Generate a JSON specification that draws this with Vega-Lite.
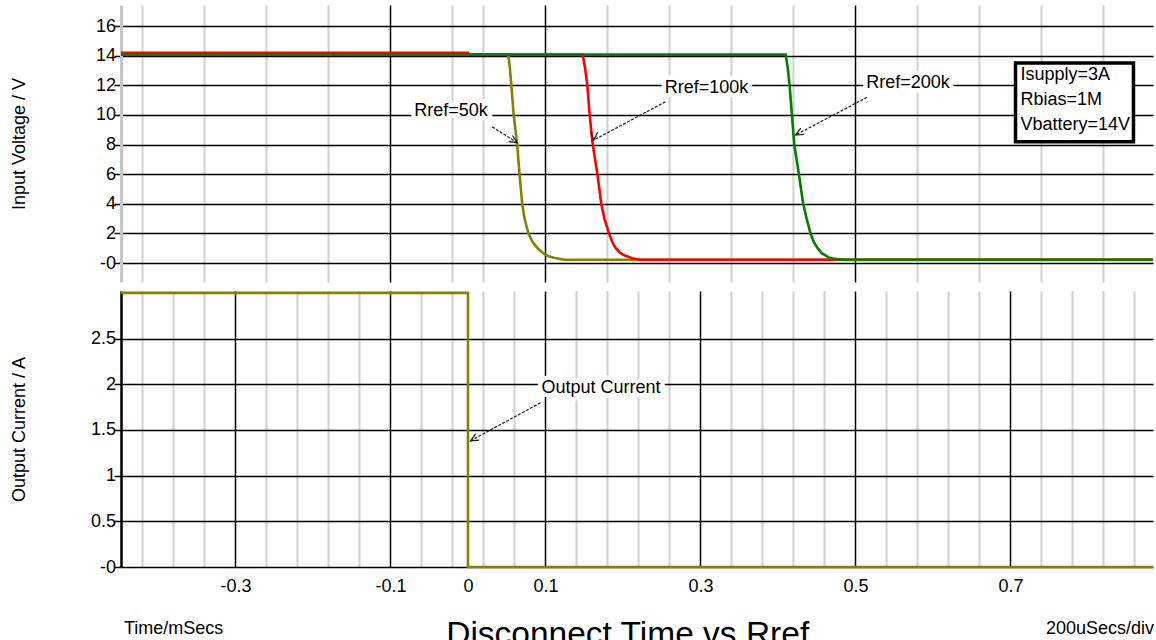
{
  "$schema": "https://vega.github.io/schema/vega-lite/v6.json",
  "padding": {"left": 10, "top": 5, "right": 0, "bottom": 0},
  "spacing": 9,
  "bounds": "flush",
  "config": {
    "font": "Liberation Sans",
    "view": {"stroke": null},
    "axis": {"labelFont": "Liberation Sans", "titleFont": "Liberation Sans", "labelFontSize": 18, "titleFontSize": 18, "labelColor": "#000000", "titleColor": "#000000", "titleFontWeight": "normal", "tickColor": "#000000", "domainColor": "#000000", "gridColor": "#000000"}
  },
  "datasets": {
    "curves": [
      {"series": "Rref=50k", "t": -0.4477, "v": 14.07},
      {"series": "Rref=50k", "t": 0.052, "v": 14.07},
      {"series": "Rref=50k", "t": 0.054, "v": 13.2},
      {"series": "Rref=50k", "t": 0.056, "v": 12},
      {"series": "Rref=50k", "t": 0.059, "v": 10},
      {"series": "Rref=50k", "t": 0.0635, "v": 8},
      {"series": "Rref=50k", "t": 0.0665, "v": 6},
      {"series": "Rref=50k", "t": 0.07, "v": 4},
      {"series": "Rref=50k", "t": 0.073, "v": 3},
      {"series": "Rref=50k", "t": 0.078, "v": 2},
      {"series": "Rref=50k", "t": 0.083, "v": 1.45},
      {"series": "Rref=50k", "t": 0.089, "v": 1.05},
      {"series": "Rref=50k", "t": 0.0975, "v": 0.65},
      {"series": "Rref=50k", "t": 0.104, "v": 0.45},
      {"series": "Rref=50k", "t": 0.111, "v": 0.35},
      {"series": "Rref=50k", "t": 0.124, "v": 0.22},
      {"series": "Rref=50k", "t": 0.8839, "v": 0.22},
      {"series": "Rref=100k", "t": -0.4477, "v": 14.2},
      {"series": "Rref=100k", "t": 0, "v": 14.2},
      {"series": "Rref=100k", "t": 0, "v": 14.07},
      {"series": "Rref=100k", "t": 0.148, "v": 14.07},
      {"series": "Rref=100k", "t": 0.151, "v": 13.2},
      {"series": "Rref=100k", "t": 0.154, "v": 12},
      {"series": "Rref=100k", "t": 0.157, "v": 10},
      {"series": "Rref=100k", "t": 0.161, "v": 8},
      {"series": "Rref=100k", "t": 0.167, "v": 6},
      {"series": "Rref=100k", "t": 0.172, "v": 4},
      {"series": "Rref=100k", "t": 0.176, "v": 3},
      {"series": "Rref=100k", "t": 0.182, "v": 2},
      {"series": "Rref=100k", "t": 0.186, "v": 1.45},
      {"series": "Rref=100k", "t": 0.19, "v": 1.05},
      {"series": "Rref=100k", "t": 0.196, "v": 0.7},
      {"series": "Rref=100k", "t": 0.201, "v": 0.54},
      {"series": "Rref=100k", "t": 0.212, "v": 0.32},
      {"series": "Rref=100k", "t": 0.222, "v": 0.22},
      {"series": "Rref=100k", "t": 0.8839, "v": 0.22},
      {"series": "Rref=200k", "t": -0.4477, "v": 14.07},
      {"series": "Rref=200k", "t": 0.41, "v": 14.07},
      {"series": "Rref=200k", "t": 0.4125, "v": 13.2},
      {"series": "Rref=200k", "t": 0.415, "v": 12},
      {"series": "Rref=200k", "t": 0.418, "v": 10},
      {"series": "Rref=200k", "t": 0.421, "v": 8},
      {"series": "Rref=200k", "t": 0.427, "v": 6},
      {"series": "Rref=200k", "t": 0.4325, "v": 4},
      {"series": "Rref=200k", "t": 0.437, "v": 3},
      {"series": "Rref=200k", "t": 0.442, "v": 2},
      {"series": "Rref=200k", "t": 0.446, "v": 1.45},
      {"series": "Rref=200k", "t": 0.4506, "v": 1.05},
      {"series": "Rref=200k", "t": 0.457, "v": 0.65},
      {"series": "Rref=200k", "t": 0.4655, "v": 0.38},
      {"series": "Rref=200k", "t": 0.473, "v": 0.28},
      {"series": "Rref=200k", "t": 0.483, "v": 0.22},
      {"series": "Rref=200k", "t": 0.8839, "v": 0.22}
    ],
    "current": [
      {"t": -0.4477, "i": 3},
      {"t": 0, "i": 3},
      {"t": 0, "i": 0},
      {"t": 0.8839, "i": 0}
    ],
    "vnotes": [
      {"label": "Rref=50k", "tx": -0.0219, "ty": 10.26, "ax": 0.0312, "ay": 9.2, "hx": 0.0635, "hy": 8.12},
      {"label": "Rref=100k", "tx": 0.3077, "ty": 11.82, "ax": 0.2548, "ay": 10.89, "hx": 0.1623, "hy": 8.3},
      {"label": "Rref=200k", "tx": 0.5677, "ty": 12.15, "ax": 0.515, "ay": 11.19, "hx": 0.4226, "hy": 8.64}
    ],
    "inotes": [
      {"label": "Output Current", "tx": 0.1716, "ty": 1.96, "ax": 0.0935, "ay": 1.797, "hx": 0.0032, "hy": 1.38}
    ]
  },
  "vconcat": [
    {
      "width": 1032,
      "height": 277,
      "layer": [
        {
          "data": {"name": "curves"},
          "mark": {"type": "line", "strokeWidth": 2.6},
          "encoding": {
            "x": {"field": "t", "type": "quantitative", "scale": {"domain": [-0.4477, 0.8839], "nice": false, "zero": false},
              "axis": {"orient": "bottom", "values": [-0.42,-0.38,-0.34,-0.3,-0.26,-0.22,-0.18,-0.14,-0.1,-0.06,-0.02,0,0.02,0.06,0.1,0.14,0.18,0.22,0.26,0.3,0.34,0.38,0.42,0.46,0.5,0.54,0.58,0.62,0.66,0.7,0.74,0.78,0.82,0.86],
                "grid": true,
                "gridColor": {"condition": {"test": "indexof([-0.3,-0.1,0.1,0.3,0.5,0.7], datum.value) >= 0", "value": "#000000"}, "value": "#d0d0d0"},
                "gridWidth": {"condition": {"test": "indexof([-0.3,-0.1,0.1,0.3,0.5,0.7], datum.value) >= 0", "value": 1.5}, "value": 2},
                "gridOpacity": {"condition": {"test": "datum.value == 0", "value": 0}, "value": 1},
                "labels": false, "ticks": false, "domain": false, "title": null}},
            "y": {"field": "v", "type": "quantitative", "scale": {"domain": [-1.28, 17.42], "nice": false, "zero": false},
              "axis": {"values": [0,2,4,6,8,10,12,14,16], "grid": true, "gridColor": "#000000", "gridWidth": 1.5,
                "ticks": true, "tickSize": 7, "tickWidth": 1.5, "labelPadding": -1.5, "labelOverlap": false, "labelFlush": false,
                "labelExpr": "datum.value == 0 ? '-0' : toString(datum.value)",
                "domain": true, "domainColor": "#c8c8c8", "domainWidth": 3,
                "title": "Input Voltage / V", "titleX": -92.2}},
            "color": {"field": "series", "type": "nominal", "scale": {"domain": ["Rref=50k", "Rref=100k", "Rref=200k"], "range": ["#838300", "#ff0000", "#008000"]}, "legend": null},
            "order": {"value": null}
          }
        },
        {
          "data": {"name": "vnotes"},
          "mark": {"type": "rule", "color": "#222222", "strokeWidth": 1.2, "strokeDash": [3, 1.5]},
          "encoding": {
            "x": {"field": "ax", "type": "quantitative"},
            "y": {"field": "ay", "type": "quantitative",
              "axis": {"values": [0,2,4,6,8,10,12,14,16], "grid": true, "gridColor": "#000000", "gridWidth": 1.5,
                "ticks": true, "tickSize": 7, "tickWidth": 1.5, "labelPadding": -1.5, "labelOverlap": false, "labelFlush": false,
                "labelExpr": "datum.value == 0 ? '-0' : toString(datum.value)",
                "domain": true, "domainColor": "#c8c8c8", "domainWidth": 3,
                "title": "Input Voltage / V", "titleX": -92.2}},
            "x2": {"field": "hx"},
            "y2": {"field": "hy"}
          }
        },
        {
          "data": {"name": "vnotes"},
          "mark": {"type": "point", "shape": "M-1,-0.45L0,0L-1,0.45", "filled": false, "color": "#222222", "strokeWidth": 1.3, "size": 250, "opacity": 1},
          "encoding": {
            "x": {"field": "hx", "type": "quantitative"},
            "y": {"field": "hy", "type": "quantitative",
              "axis": {"values": [0,2,4,6,8,10,12,14,16], "grid": true, "gridColor": "#000000", "gridWidth": 1.5,
                "ticks": true, "tickSize": 7, "tickWidth": 1.5, "labelPadding": -1.5, "labelOverlap": false, "labelFlush": false,
                "labelExpr": "datum.value == 0 ? '-0' : toString(datum.value)",
                "domain": true, "domainColor": "#c8c8c8", "domainWidth": 3,
                "title": "Input Voltage / V", "titleX": -92.2}},
            "angle": {"field": "label", "type": "nominal", "scale": {"domain": ["Rref=50k", "Rref=100k", "Rref=200k"], "range": [32.6, 151.9, 152.3]}, "legend": null}
          }
        },
        {
          "data": {"name": "vnotes"},
          "mark": {"type": "text", "fontSize": 18, "align": "center", "baseline": "middle", "stroke": "#ffffff", "strokeWidth": 9, "strokeJoin": "round", "fill": "#ffffff"},
          "encoding": {
            "x": {"field": "tx", "type": "quantitative"},
            "y": {"field": "ty", "type": "quantitative",
              "axis": {"values": [0,2,4,6,8,10,12,14,16], "grid": true, "gridColor": "#000000", "gridWidth": 1.5,
                "ticks": true, "tickSize": 7, "tickWidth": 1.5, "labelPadding": -1.5, "labelOverlap": false, "labelFlush": false,
                "labelExpr": "datum.value == 0 ? '-0' : toString(datum.value)",
                "domain": true, "domainColor": "#c8c8c8", "domainWidth": 3,
                "title": "Input Voltage / V", "titleX": -92.2}},
            "text": {"field": "label"}
          }
        },
        {
          "data": {"name": "vnotes"},
          "mark": {"type": "text", "fontSize": 18, "align": "center", "baseline": "middle", "color": "#000000"},
          "encoding": {
            "x": {"field": "tx", "type": "quantitative"},
            "y": {"field": "ty", "type": "quantitative",
              "axis": {"values": [0,2,4,6,8,10,12,14,16], "grid": true, "gridColor": "#000000", "gridWidth": 1.5,
                "ticks": true, "tickSize": 7, "tickWidth": 1.5, "labelPadding": -1.5, "labelOverlap": false, "labelFlush": false,
                "labelExpr": "datum.value == 0 ? '-0' : toString(datum.value)",
                "domain": true, "domainColor": "#c8c8c8", "domainWidth": 3,
                "title": "Input Voltage / V", "titleX": -92.2}},
            "text": {"field": "label"}
          }
        },
        {
          "data": {"values": [{}]},
          "mark": {"type": "rect", "fill": "#ffffff", "stroke": "#000000", "strokeWidth": 3.5},
          "encoding": {
            "x": {"datum": 0.7065}, "x2": {"datum": 0.8587},
            "y": {"datum": 13.5,
              "axis": {"values": [0,2,4,6,8,10,12,14,16], "grid": true, "gridColor": "#000000", "gridWidth": 1.5,
                "ticks": true, "tickSize": 7, "tickWidth": 1.5, "labelPadding": -1.5, "labelOverlap": false, "labelFlush": false,
                "labelExpr": "datum.value == 0 ? '-0' : toString(datum.value)",
                "domain": true, "domainColor": "#c8c8c8", "domainWidth": 3,
                "title": "Input Voltage / V", "titleX": -92.2}},
            "y2": {"datum": 8.19}
          }
        },
        {
          "data": {"values": [{}]},
          "mark": {"type": "text", "text": ["Isupply=3A", "Rbias=1M", "Vbattery=14V"], "fontSize": 18, "lineHeight": 25, "align": "left", "baseline": "middle", "color": "#000000"},
          "encoding": {
            "x": {"datum": 0.7129},
            "y": {"datum": 12.69,
              "axis": {"values": [0,2,4,6,8,10,12,14,16], "grid": true, "gridColor": "#000000", "gridWidth": 1.5,
                "ticks": true, "tickSize": 7, "tickWidth": 1.5, "labelPadding": -1.5, "labelOverlap": false, "labelFlush": false,
                "labelExpr": "datum.value == 0 ? '-0' : toString(datum.value)",
                "domain": true, "domainColor": "#c8c8c8", "domainWidth": 3,
                "title": "Input Voltage / V", "titleX": -92.2}}
          }
        }
      ]
    },
    {
      "width": 1032,
      "height": 276,
      "resolve": {"axis": {"x": "independent"}},
      "layer": [
        {
          "data": {"name": "current"},
          "mark": {"type": "line", "strokeWidth": 2.6, "color": "#838300"},
          "encoding": {
            "x": {"field": "t", "type": "quantitative", "scale": {"domain": [-0.4477, 0.8839], "nice": false, "zero": false},
              "axis": {"orient": "bottom", "values": [-0.42,-0.38,-0.34,-0.3,-0.26,-0.22,-0.18,-0.14,-0.1,-0.06,-0.02,0,0.02,0.06,0.1,0.14,0.18,0.22,0.26,0.3,0.34,0.38,0.42,0.46,0.5,0.54,0.58,0.62,0.66,0.7,0.74,0.78,0.82,0.86],
                "grid": true,
                "gridColor": {"condition": {"test": "indexof([-0.3,-0.1,0.1,0.3,0.5,0.7], datum.value) >= 0", "value": "#000000"}, "value": "#d0d0d0"},
                "gridWidth": {"condition": {"test": "indexof([-0.3,-0.1,0.1,0.3,0.5,0.7], datum.value) >= 0", "value": 1.5}, "value": 2},
                "gridOpacity": {"condition": {"test": "datum.value == 0", "value": 0}, "value": 1},
                "labels": true, "labelOverlap": false, "labelFlush": false,
                "labelExpr": "datum.value == 0 || indexof([-0.3,-0.1,0.1,0.3,0.5,0.7], datum.value) >= 0 ? toString(datum.value) : ''",
                "labelBaseline": "alphabetic", "labelPadding": 24, "ticks": false, "tickSize": 0, "domain": false,
                "title": "Time/mSecs", "titleX": 2.5, "titleY": 66, "titleAlign": "left", "titleBaseline": "alphabetic"}},
            "y": {"field": "i", "type": "quantitative", "scale": {"domain": [0, 3.02], "nice": false, "zero": false},
              "axis": {"values": [0,0.5,1,1.5,2,2.5], "grid": true, "gridColor": "#000000", "gridWidth": 1.5,
                "ticks": true, "tickSize": 7, "tickWidth": 1.5, "labelPadding": -1.5, "labelOverlap": false, "labelFlush": false,
                "labelExpr": "datum.value == 0 ? '-0' : toString(datum.value)",
                "domain": true, "domainColor": "#000000", "domainWidth": 2.5,
                "title": "Output Current / A", "titleX": -92.2}},
            "order": {"value": null}
          }
        },
        {
          "data": {"name": "inotes"},
          "mark": {"type": "rule", "color": "#222222", "strokeWidth": 1.2, "strokeDash": [3, 1.5]},
          "encoding": {
            "x": {"field": "ax", "type": "quantitative",
              "axis": {"orient": "bottom", "grid": false, "labels": false, "ticks": false, "domain": false,
                "title": "200uSecs/div", "titleX": 1032.5, "titleY": 66, "titleAlign": "right", "titleBaseline": "alphabetic"}},
            "y": {"field": "ay", "type": "quantitative"},
            "x2": {"field": "hx"},
            "y2": {"field": "hy"}
          }
        },
        {
          "data": {"name": "inotes"},
          "mark": {"type": "point", "shape": "M-1,-0.45L0,0L-1,0.45", "filled": false, "color": "#222222", "strokeWidth": 1.3, "size": 250, "opacity": 1, "angle": 151.3},
          "encoding": {
            "x": {"field": "hx", "type": "quantitative",
              "axis": {"orient": "bottom", "grid": false, "labels": false, "ticks": false, "domain": false,
                "title": "Disconnect Time vs Rref", "titleFontSize": 33.5, "titleX": 506.2, "titleY": 77.8, "titleAlign": "center", "titleBaseline": "alphabetic"}},
            "y": {"field": "hy", "type": "quantitative"}
          }
        },
        {
          "data": {"name": "inotes"},
          "mark": {"type": "text", "fontSize": 18, "align": "center", "baseline": "middle", "stroke": "#ffffff", "strokeWidth": 9, "strokeJoin": "round", "fill": "#ffffff"},
          "encoding": {
            "x": {"field": "tx", "type": "quantitative", "axis": null},
            "y": {"field": "ty", "type": "quantitative"},
            "text": {"field": "label"}
          }
        },
        {
          "data": {"name": "inotes"},
          "mark": {"type": "text", "fontSize": 18, "align": "center", "baseline": "middle", "color": "#000000"},
          "encoding": {
            "x": {"field": "tx", "type": "quantitative", "axis": null},
            "y": {"field": "ty", "type": "quantitative"},
            "text": {"field": "label"}
          }
        }
      ]
    }
  ]
}
